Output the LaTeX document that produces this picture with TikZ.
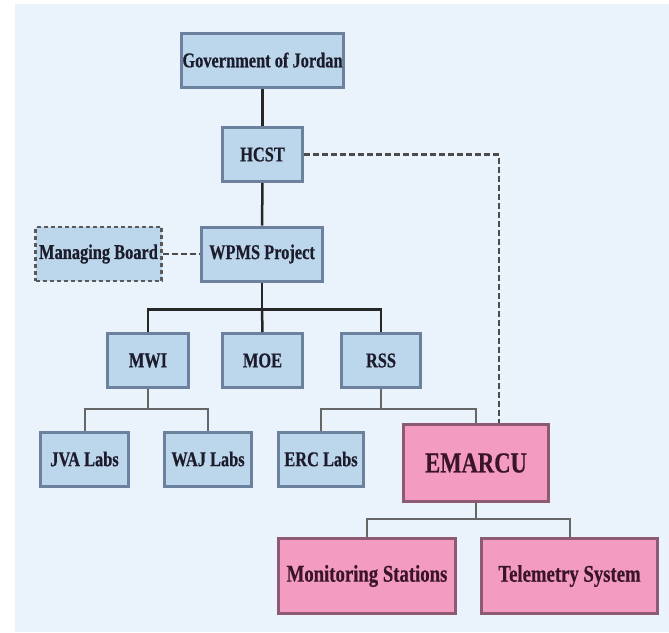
\documentclass[tikz,border=0pt]{standalone}
\usepackage{fontspec}
\setmainfont{Liberation Serif}[FakeStretch=0.78, BoldFeatures={FakeBold=0.5}]
\definecolor{bgblue}{HTML}{EAF3FB}
\definecolor{boxblue}{HTML}{BCD6EC}
\definecolor{boxline}{HTML}{6C819E}
\definecolor{boxpink}{HTML}{F39BC1}
\definecolor{pinkline}{HTML}{8C5A72}
\definecolor{txtdark}{HTML}{1C1C2C}
\definecolor{txtpink}{HTML}{3A1428}
\tikzset{
  unitbox/.style={draw=boxline, fill=boxblue, line width=3pt, inner sep=0pt,
    minimum height=54pt, text=txtdark, font=\fontsize{21}{23}\selectfont\bfseries},
  boardbox/.style={unitbox, line width=2.5pt, dash pattern=on 4pt off 3pt, draw=black!65},
  emarcubox/.style={unitbox, draw=pinkline, fill=boxpink, text=txtpink},
  mainline/.style={line width=2.5pt, black!85},
  subline/.style={line width=2pt, black!60},
  linkline/.style={line width=2.2pt, black!70, dash pattern=on 6pt off 3pt}
}
\begin{document}
\begin{tikzpicture}[x=1pt, y=-1pt]
\useasboundingbox (0,0) rectangle (669,632);
\fill[bgblue] (15,4) rectangle (669,632);

\node[unitbox, minimum width=162pt] (gov) at (262.5,60) {Government of Jordan};
\node[unitbox, minimum width=80pt] (hcst) at (262.5,154.5) {HCST};
\node[unitbox, minimum width=121pt] (wpms) at (262,254) {WPMS Project};
\node[boardbox, minimum width=126pt] (board) at (98.5,254) {Managing Board};

\node[unitbox, minimum width=81pt] (mwi) at (148,360.5) {MWI};
\node[unitbox, minimum width=80pt] (moe) at (262.5,360.5) {MOE};
\node[unitbox, minimum width=79pt] (rss) at (381,360.5) {RSS};

\node[unitbox, minimum width=88pt] (jva) at (84.5,459) {JVA Labs};
\node[unitbox, minimum width=87pt] (waj) at (208,459) {WAJ Labs};
\node[unitbox, minimum width=85pt] (erc) at (321,459) {ERC Labs};
\node[emarcubox, minimum width=145pt, minimum height=77pt,
  font=\fontsize{29}{31}\selectfont\bfseries] (emarcu) at (476,463) {EMARCU};

\node[emarcubox, minimum width=177pt, minimum height=75pt,
  font=\fontsize{24}{26}\selectfont\bfseries] (mon) at (367,576) {Monitoring Stations};
\node[emarcubox, minimum width=176pt, minimum height=75pt,
  font=\fontsize{24}{26}\selectfont\bfseries] (tel) at (569.5,576) {Telemetry System};

\draw[mainline] (gov) -- (hcst);
\draw[mainline] (hcst) -- (wpms);
\draw[mainline] (wpms.south) -- ++(0,27) coordinate (bus);
\draw[mainline] (mwi.north) |- (bus) -| (rss.north);
\draw[mainline] (bus) -- (moe.north);
\draw[linkline] (board) -- (wpms);
\draw[linkline] (hcst.east) -| (emarcu.north -| 499,0);

\draw[subline] (mwi.south) -- ++(0,20) coordinate (mwibus);
\draw[subline] (jva.north) |- (mwibus) -| (waj.north);
\draw[subline] (rss.south) -- ++(0,20) coordinate (rssbus);
\draw[subline] (erc.north) |- (rssbus) -| (emarcu.north);
\draw[subline] (emarcu.south) -- ++(0,16) coordinate (embus);
\draw[subline] (mon.north) |- (embus) -| (tel.north);
\end{tikzpicture}
\end{document}
